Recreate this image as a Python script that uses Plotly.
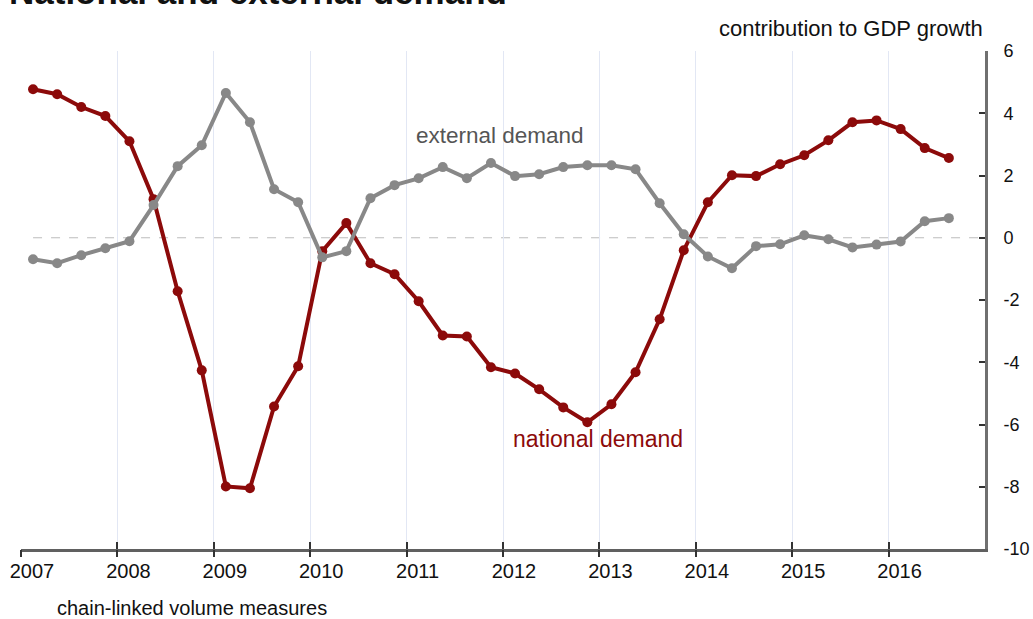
import plotly.graph_objects as go

# quarters 2007Q1 .. 2016Q3
quarters = [f"{y}Q{q}" for y in range(2007, 2017) for q in range(1, 5)][:39]
national_demand = [4.77, 4.61, 4.20, 3.91, 3.10, 1.24, -1.72, -4.26, -7.99, -8.05,
                   -5.42, -4.13, -0.43, 0.47, -0.82, -1.17, -2.04, -3.14, -3.17, -4.16,
                   -4.36, -4.87, -5.45, -5.93, -5.35, -4.32, -2.62, -0.40, 1.14, 2.01,
                   1.98, 2.36, 2.65, 3.13, 3.71, 3.77, 3.49, 2.88, 2.56]
external_demand = [-0.69, -0.82, -0.56, -0.34, -0.11, 1.05, 2.30, 2.97, 4.65, 3.71,
                   1.56, 1.14, -0.63, -0.43, 1.27, 1.69, 1.91, 2.27, 1.91, 2.40,
                   1.98, 2.04, 2.27, 2.33, 2.33, 2.20, 1.11, 0.11, -0.60, -0.98,
                   -0.27, -0.21, 0.08, -0.05, -0.31, -0.22, -0.12, 0.53, 0.63]
years = list(range(2007, 2017))
year_labels = [str(y) for y in years]
y_ticks = list(range(-10, 7, 2))
y_labels = [str(v) for v in y_ticks]  # plain hyphen minus as in the original

# quarter mid-points as fractional years
xq = [int(s[:4]) + (int(s[-1]) - 0.5) / 4 for s in quarters]

RED = "#8c0a0a"
GREY = "#888888"
FONT = "Liberation Sans"

fig = go.Figure()
fig.add_trace(go.Scatter(x=xq, y=national_demand, mode="lines+markers",
                         line=dict(color=RED, width=4),
                         marker=dict(color=RED, size=10), showlegend=False))
fig.add_trace(go.Scatter(x=xq, y=external_demand, mode="lines+markers",
                         line=dict(color=GREY, width=4),
                         marker=dict(color=GREY, size=10), showlegend=False,
                         xaxis="x2"))

fig.add_shape(type="line", xref="x", yref="y", x0=xq[0], x1=2017, y0=0, y1=0,
              line=dict(color="#bdbdbd", width=1, dash="dash"), layer="below")

fig.update_layout(
    width=1033, height=619,
    margin=dict(l=21, r=48, t=51, b=70, autoexpand=False),
    paper_bgcolor="white", plot_bgcolor="white",
    font=dict(family=FONT, color="#111111"),
    xaxis=dict(range=[2007, 2017], tickvals=years, ticktext=year_labels,
               automargin=False,
               showgrid=True, gridcolor="#e2e7f4", gridwidth=1,
               zeroline=False, showline=True, linecolor="#606060", linewidth=3,
               ticks="inside", ticklen=7, tickwidth=1.5, tickcolor="#333333",
               ticklabelshift=11, ticklabelstandoff=2,
               tickfont=dict(size=20, color="#111111")),
    xaxis2=dict(range=[2007, 2017], overlaying="x", anchor="y", tickvals=years,
                automargin=False,
                showticklabels=False, showgrid=False, zeroline=False,
                showline=False, ticks="outside", ticklen=7, tickwidth=1.5,
                tickcolor="#333333"),
    yaxis=dict(range=[-10, 6], side="right", tickvals=y_ticks, ticktext=y_labels,
               automargin=False,
               showgrid=False, zeroline=False, showline=True,
               linecolor="#707070", linewidth=3,
               ticks="inside", ticklen=6, tickwidth=1.5, tickcolor="#333333",
               ticklabelstandoff=12, tickfont=dict(size=18, color="#111111")),
)

fig.add_annotation(text="<b>National and external demand</b>", xref="paper", yref="paper",
                   x=-0.015, y=1.077, xanchor="left", yanchor="bottom", showarrow=False,
                   font=dict(size=35, color="#111111", family=FONT))
fig.add_annotation(text="contribution to GDP growth", xref="paper", yref="paper",
                   x=1, y=1.046, xanchor="right", yanchor="middle", showarrow=False,
                   font=dict(size=22, color="#111111", family=FONT))
fig.add_annotation(text="chain-linked volume measures", xref="paper", yref="paper",
                   x=0.0356, y=-0.118, xanchor="left", yanchor="middle", showarrow=False,
                   font=dict(size=20, color="#111111", family=FONT))
fig.add_annotation(text="external demand", xref="x", yref="y",
                   x=2011.97, y=3.30, xanchor="center", yanchor="middle", showarrow=False,
                   font=dict(size=22.5, color="#555555", family=FONT))
fig.add_annotation(text="national demand", xref="x", yref="y",
                   x=2012.99, y=-6.47, xanchor="center", yanchor="middle", showarrow=False,
                   font=dict(size=23, color=RED, family=FONT))

# remove the browser's default 8px body margin so the figure sits at the page corner
fig.write_html("out.html", config={"displayModeBar": False},
               post_script="document.body.style.margin='0';")
